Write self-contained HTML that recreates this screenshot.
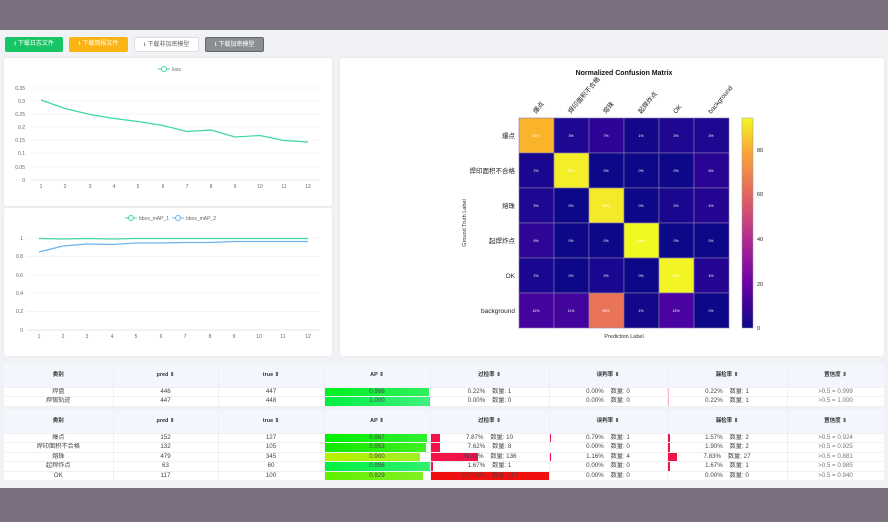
<!DOCTYPE html><html><head><meta charset="utf-8"><style>
*{margin:0;padding:0;box-sizing:border-box}
body{width:888px;height:522px;background:#f0f2f5;font-family:"Liberation Sans","Noto Sans CJK SC",sans-serif;position:relative;overflow:hidden}
.bar{position:absolute;left:0;width:888px;background:#7a7080}
.btn{position:absolute;top:37px;height:15px;font-size:6px;line-height:15px;text-align:center;border-radius:2px;color:#fff}
.panel{position:absolute;background:#fff;border-radius:3px;box-shadow:0 0 2px rgba(0,0,0,.08)}
table{position:absolute;left:4px;width:880px;border-collapse:collapse;font-size:6.2px;line-height:8px;color:#444;background:#fff;table-layout:fixed}
td,th{text-align:center;border-right:1px solid #eef0f4;border-bottom:1px solid #eef0f4;padding:0;position:relative;overflow:hidden;white-space:nowrap}
td{height:9.5px;line-height:8.5px}
th{background:#f3f6fc;font-weight:bold;font-size:5.5px;color:#333;height:23px}
.bx{position:absolute;left:0;top:0;bottom:0}
.t{position:relative}
</style></head><body>
<div class="bar" style="top:0;height:30px"></div>
<div class="bar" style="top:488px;height:34px"></div>
<div class="btn" style="left:5px;width:58px;background:#19c464">⭳ 下载日志文件</div>
<div class="btn" style="left:69px;width:59px;background:#fcb314">⭳ 下载简报文件</div>
<div class="btn" style="left:134px;width:65px;background:#fff;color:#666;border:1px solid #ddd">⭳ 下载非加密模型</div>
<div class="btn" style="left:205px;width:59px;background:#8a8d92;border:1px solid #666">⭳ 下载加密模型</div>

<div class="panel" style="left:4px;top:58px;width:328px;height:148px">
<svg width="328" height="148" font-size="5" fill="#666" font-family="Liberation Sans">
<g transform="translate(-4,-58)">
<g stroke="#eef0f5" stroke-width="0.8">
<line x1="31" x2="320" y1="88" y2="88"/><line x1="31" x2="320" y1="101" y2="101"/><line x1="31" x2="320" y1="114" y2="114"/><line x1="31" x2="320" y1="127" y2="127"/><line x1="31" x2="320" y1="140" y2="140"/><line x1="31" x2="320" y1="153" y2="153"/><line x1="31" x2="320" y1="167" y2="167"/><line x1="31" x2="320" y1="180" y2="180" stroke="#ddd"/></g>
<g text-anchor="end"><text x="25" y="90">0.35</text><text x="25" y="103">0.3</text><text x="25" y="116">0.25</text><text x="25" y="129">0.2</text><text x="25" y="142">0.15</text><text x="25" y="155">0.1</text><text x="25" y="169">0.05</text><text x="25" y="182">0</text></g>
<g text-anchor="middle"><text x="41" y="188">1</text><text x="65" y="188">2</text><text x="90" y="188">3</text><text x="114" y="188">4</text><text x="138" y="188">5</text><text x="163" y="188">6</text><text x="187" y="188">7</text><text x="211" y="188">8</text><text x="235" y="188">9</text><text x="260" y="188">10</text><text x="284" y="188">11</text><text x="308" y="188">12</text></g>
<polyline fill="none" stroke="#3dd6aa" stroke-width="1.2" points="41,100 65,108.5 90,114.5 114,118.5 138,121.5 163,125.5 187,131.5 211,130 235,137 260,135.5 284,140.5 308,142"/>
<line x1="158" x2="170" y1="69" y2="69" stroke="#3dd6aa"/><circle cx="164" cy="69" r="2.5" fill="#fff" stroke="#3dd6aa"/><text x="172" y="71">loss</text>
</g></svg></div>

<div class="panel" style="left:4px;top:208px;width:328px;height:148px">
<svg width="328" height="148" font-size="5" fill="#666" font-family="Liberation Sans">
<g transform="translate(-4,-208)">
<g stroke="#eef0f5" stroke-width="0.8"><line x1="27" x2="320" y1="238" y2="238"/><line x1="27" x2="320" y1="256.5" y2="256.5"/><line x1="27" x2="320" y1="275" y2="275"/><line x1="27" x2="320" y1="293" y2="293"/><line x1="27" x2="320" y1="311.5" y2="311.5"/><line x1="27" x2="320" y1="330" y2="330" stroke="#ddd"/></g>
<g text-anchor="end"><text x="23" y="240">1</text><text x="23" y="258">0.8</text><text x="23" y="277">0.6</text><text x="23" y="295">0.4</text><text x="23" y="313">0.2</text><text x="23" y="332">0</text></g>
<g text-anchor="middle"><text x="39" y="338">1</text><text x="63" y="338">2</text><text x="87" y="338">3</text><text x="112" y="338">4</text><text x="136" y="338">5</text><text x="161" y="338">6</text><text x="185" y="338">7</text><text x="210" y="338">8</text><text x="234" y="338">9</text><text x="259" y="338">10</text><text x="283" y="338">11</text><text x="308" y="338">12</text></g>
<polyline fill="none" stroke="#3dd6aa" stroke-width="1.2" points="39,238.5 63,239 87,238.5 112,239 136,238.5 161,238.5 185,238.5 210,238.5 234,238.5 259,238.5 283,238.5 308,238.5"/>
<polyline fill="none" stroke="#6bb4f0" stroke-width="1.2" points="39,252 63,246 87,244 112,244.5 136,243 161,243 185,242.5 210,242.5 234,241.5 259,241.5 283,241.5 308,241.5"/>
<line x1="125" x2="137" y1="218" y2="218" stroke="#3dd6aa"/><circle cx="131" cy="218" r="2.5" fill="#fff" stroke="#3dd6aa"/><text x="139" y="220">bbox_mAP_1</text>
<line x1="172" x2="184" y1="218" y2="218" stroke="#6bb4f0"/><circle cx="178" cy="218" r="2.5" fill="#fff" stroke="#6bb4f0"/><text x="186" y="220">bbox_mAP_2</text>
</g></svg></div>

<div class="panel" style="left:340px;top:58px;width:544px;height:298px">
<svg width="544" height="298" font-family="Liberation Sans,Noto Sans CJK SC,sans-serif">
<defs><linearGradient id="pl" x1="0" y1="1" x2="0" y2="0"><stop offset="0" stop-color="#0d0887"/><stop offset=".21" stop-color="#6a00a8"/><stop offset=".42" stop-color="#b12a90"/><stop offset=".63" stop-color="#e16462"/><stop offset=".84" stop-color="#fca636"/><stop offset="1" stop-color="#f0f921"/></linearGradient></defs>
<g transform="translate(-340,-58)">
<text x="624" y="75" font-size="7" font-weight="bold" text-anchor="middle" fill="#111">Normalized Confusion Matrix</text>
<g font-size="4" fill="#fff" text-anchor="middle" stroke="#8a7ab0" stroke-width="0.6">
<rect x="519" y="118" width="35" height="35" fill="#f9b42c"/><rect x="554" y="118" width="35" height="35" fill="#1e0791"/><rect x="589" y="118" width="35" height="35" fill="#2d0596"/><rect x="624" y="118" width="35" height="35" fill="#130889"/><rect x="659" y="118" width="35" height="35" fill="#1e0791"/><rect x="694" y="118" width="35" height="35" fill="#1e0791"/>
<rect x="519" y="153" width="35" height="35" fill="#1a0790"/><rect x="554" y="153" width="35" height="35" fill="#f3ee27"/><rect x="589" y="153" width="35" height="35" fill="#0d0887"/><rect x="624" y="153" width="35" height="35" fill="#0d0887"/><rect x="659" y="153" width="35" height="35" fill="#0d0887"/><rect x="694" y="153" width="35" height="35" fill="#2a0594"/>
<rect x="519" y="188" width="35" height="35" fill="#1e0791"/><rect x="554" y="188" width="35" height="35" fill="#0d0887"/><rect x="589" y="188" width="35" height="35" fill="#f4ea29"/><rect x="624" y="188" width="35" height="35" fill="#0d0887"/><rect x="659" y="188" width="35" height="35" fill="#1a0790"/><rect x="694" y="188" width="35" height="35" fill="#240692"/>
<rect x="519" y="223" width="35" height="35" fill="#2e0595"/><rect x="554" y="223" width="35" height="35" fill="#0d0887"/><rect x="589" y="223" width="35" height="35" fill="#0d0887"/><rect x="624" y="223" width="35" height="35" fill="#f0f921"/><rect x="659" y="223" width="35" height="35" fill="#0d0887"/><rect x="694" y="223" width="35" height="35" fill="#0d0887"/>
<rect x="519" y="258" width="35" height="35" fill="#1a0790"/><rect x="554" y="258" width="35" height="35" fill="#0d0887"/><rect x="589" y="258" width="35" height="35" fill="#1a0790"/><rect x="624" y="258" width="35" height="35" fill="#0d0887"/><rect x="659" y="258" width="35" height="35" fill="#f2f423"/><rect x="694" y="258" width="35" height="35" fill="#240692"/>
<rect x="519" y="293" width="35" height="35" fill="#45039e"/><rect x="554" y="293" width="35" height="35" fill="#42049d"/><rect x="589" y="293" width="35" height="35" fill="#ea7457"/><rect x="624" y="293" width="35" height="35" fill="#130889"/><rect x="659" y="293" width="35" height="35" fill="#4a02a0"/><rect x="694" y="293" width="35" height="35" fill="#0d0887"/>
</g>
<g font-size="3.5" fill="#fff" text-anchor="middle">
<text x="536" y="137">81%</text><text x="571" y="137">3%</text><text x="606" y="137">7%</text><text x="641" y="137">1%</text><text x="676" y="137">3%</text><text x="711" y="137">3%</text>
<text x="536" y="172">2%</text><text x="571" y="172">93%</text><text x="606" y="172">0%</text><text x="641" y="172">0%</text><text x="676" y="172">0%</text><text x="711" y="172">6%</text>
<text x="536" y="207">3%</text><text x="571" y="207">0%</text><text x="606" y="207">90%</text><text x="641" y="207">0%</text><text x="676" y="207">2%</text><text x="711" y="207">4%</text>
<text x="536" y="242">6%</text><text x="571" y="242">0%</text><text x="606" y="242">0%</text><text x="641" y="242">100%</text><text x="676" y="242">0%</text><text x="711" y="242">0%</text>
<text x="536" y="277">2%</text><text x="571" y="277">0%</text><text x="606" y="277">2%</text><text x="641" y="277">0%</text><text x="676" y="277">98%</text><text x="711" y="277">4%</text>
<text x="536" y="312">12%</text><text x="571" y="312">11%</text><text x="606" y="312">65%</text><text x="641" y="312">1%</text><text x="676" y="312">13%</text><text x="711" y="312">0%</text>
</g>
<g font-size="6.5" fill="#222" text-anchor="end">
<text x="515" y="138">爆点</text><text x="515" y="173">焊印面积不合格</text><text x="515" y="208">熔珠</text><text x="515" y="243">起焊炸点</text><text x="515" y="278">OK</text><text x="515" y="313">background</text></g>
<g font-size="6.5" fill="#222">
<text transform="translate(536,114) rotate(-50)">爆点</text><text transform="translate(571,114) rotate(-50)">焊印面积不合格</text><text transform="translate(606,114) rotate(-50)">熔珠</text><text transform="translate(641,114) rotate(-50)">起焊炸点</text><text transform="translate(676,114) rotate(-50)">OK</text><text transform="translate(711,114) rotate(-50)">background</text></g>
<text x="624" y="338" font-size="5.5" fill="#333" text-anchor="middle">Prediction Label</text>
<text transform="translate(466,223) rotate(-90)" font-size="5.5" fill="#333" text-anchor="middle">Ground Truth Label</text>
<rect x="742" y="118" width="11" height="210" fill="url(#pl)" stroke="#999" stroke-width="0.5"/>
<g font-size="5.5" fill="#222"><text x="757" y="330">0</text><text x="757" y="286">20</text><text x="757" y="241">40</text><text x="757" y="196">60</text><text x="757" y="152">80</text></g>
</g></svg></div>

<table style="top:364px">
<colgroup><col style="width:109px"><col style="width:105px"><col style="width:106px"><col style="width:106px"><col style="width:119px"><col style="width:118px"><col style="width:120px"><col style="width:97px"></colgroup>
<tr><th>类别</th><th>pred ⇕</th><th>true ⇕</th><th>AP ⇕</th><th>过检率 ⇕</th><th>误判率 ⇕</th><th>漏检率 ⇕</th><th>置信度 ⇕</th></tr>
<tr><td>焊盘</td><td>446</td><td>447</td><td><div class="bx" style="width:104px;background:linear-gradient(90deg,#00f020,#30f060)"></div><span class="t">0.986</span></td><td>0.22%&nbsp;&nbsp;&nbsp; 数量: 1</td><td>0.00%&nbsp;&nbsp;&nbsp; 数量: 0</td><td><div class="bx" style="width:1px;background:#f6b5c8"></div>0.22%&nbsp;&nbsp;&nbsp; 数量: 1</td><td style="color:#777">&gt;0.5 = 0.999</td></tr>
<tr><td>焊锡轨迹</td><td>447</td><td>448</td><td><div class="bx" style="width:106px;background:linear-gradient(90deg,#00f040,#40f080)"></div><span class="t">1.000</span></td><td>0.00%&nbsp;&nbsp;&nbsp; 数量: 0</td><td>0.00%&nbsp;&nbsp;&nbsp; 数量: 0</td><td><div class="bx" style="width:1px;background:#f6b5c8"></div>0.22%&nbsp;&nbsp;&nbsp; 数量: 1</td><td style="color:#777">&gt;0.5 = 1.000</td></tr>
</table>

<table style="top:410px">
<colgroup><col style="width:109px"><col style="width:105px"><col style="width:106px"><col style="width:106px"><col style="width:119px"><col style="width:118px"><col style="width:120px"><col style="width:97px"></colgroup>
<tr><th>类别</th><th>pred ⇕</th><th>true ⇕</th><th>AP ⇕</th><th>过检率 ⇕</th><th>误判率 ⇕</th><th>漏检率 ⇕</th><th>置信度 ⇕</th></tr>
<tr><td>爆点</td><td>152</td><td>127</td><td><div class="bx" style="width:102px;background:linear-gradient(90deg,#00f000,#30f030)"></div><span class="t">0.967</span></td><td><div class="bx" style="width:9px;background:#f0144a"></div>7.87%&nbsp;&nbsp;&nbsp; 数量: 10</td><td><div class="bx" style="width:1px;background:#f0144a"></div>0.79%&nbsp;&nbsp;&nbsp; 数量: 1</td><td><div class="bx" style="width:2px;background:#f0144a"></div>1.57%&nbsp;&nbsp;&nbsp; 数量: 2</td><td style="color:#777">&gt;0.5 = 0.924</td></tr>
<tr><td>焊印面积不合格</td><td>132</td><td>105</td><td><div class="bx" style="width:101px;background:linear-gradient(90deg,#10e800,#40f020)"></div><span class="t">0.953</span></td><td><div class="bx" style="width:9px;background:#f0144a"></div>7.62%&nbsp;&nbsp;&nbsp; 数量: 8</td><td>0.00%&nbsp;&nbsp;&nbsp; 数量: 0</td><td><div class="bx" style="width:2px;background:#f0144a"></div>1.90%&nbsp;&nbsp;&nbsp; 数量: 2</td><td style="color:#777">&gt;0.5 = 0.925</td></tr>
<tr><td>熔珠</td><td>479</td><td>345</td><td><div class="bx" style="width:95px;background:linear-gradient(90deg,#b8f000,#a0f020)"></div><span class="t">0.900</span></td><td><div class="bx" style="width:47px;background:#f0144a"></div><span class="t">39.42%&nbsp;&nbsp;&nbsp; 数量: 136</span></td><td><div class="bx" style="width:1px;background:#f0144a"></div>1.16%&nbsp;&nbsp;&nbsp; 数量: 4</td><td><div class="bx" style="width:9px;background:#f0144a"></div>7.83%&nbsp;&nbsp;&nbsp; 数量: 27</td><td style="color:#777">&gt;0.5 = 0.881</td></tr>
<tr><td>起焊炸点</td><td>63</td><td>60</td><td><div class="bx" style="width:105px;background:linear-gradient(90deg,#00f040,#30f070)"></div><span class="t">0.996</span></td><td><div class="bx" style="width:2px;background:#f0144a"></div>1.67%&nbsp;&nbsp;&nbsp; 数量: 1</td><td>0.00%&nbsp;&nbsp;&nbsp; 数量: 0</td><td><div class="bx" style="width:2px;background:#f0144a"></div>1.67%&nbsp;&nbsp;&nbsp; 数量: 1</td><td style="color:#777">&gt;0.5 = 0.985</td></tr>
<tr><td>OK</td><td>117</td><td>100</td><td><div class="bx" style="width:98px;background:linear-gradient(90deg,#60f000,#80f020)"></div><span class="t">0.929</span></td><td><div class="bx" style="width:119px;background:#f01010"></div><span class="t">117.00%&nbsp;&nbsp;&nbsp; 数量: 117</span></td><td>0.00%&nbsp;&nbsp;&nbsp; 数量: 0</td><td>0.00%&nbsp;&nbsp;&nbsp; 数量: 0</td><td style="color:#777">&gt;0.5 = 0.940</td></tr>
</table>
</body></html>
